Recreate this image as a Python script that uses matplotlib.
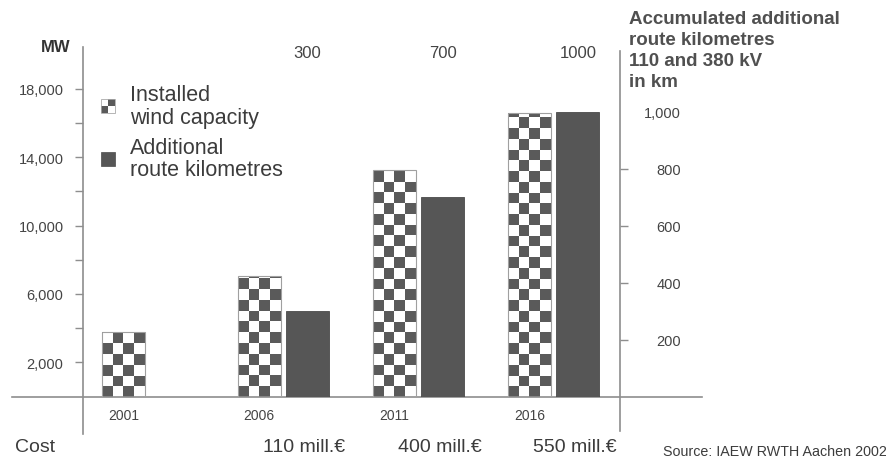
import numpy as np
import matplotlib
matplotlib.use("Agg")
import matplotlib.pyplot as plt
from matplotlib.patches import Rectangle, Patch
from matplotlib.colors import ListedColormap
from matplotlib.legend_handler import HandlerBase
import matplotlib.transforms as mtransforms

plt.rcParams['font.family'] = ['Liberation Sans', 'DejaVu Sans']

# ---------------- data ----------------
years = ['2001', '2006', '2011', '2016']
capacity_mw = [3800, 7050, 13250, 16600]          # installed wind capacity (left axis)
route_km = [np.nan, 300, 700, 1000]               # accumulated additional route km (right axis)
top_labels = ['', '300', '700', '1000']
cost_labels = ['', '110 mill.€', '400 mill.€', '550 mill.€']
left_major = [2000, 6000, 10000, 14000, 18000]
left_major_labels = ['2,000', '6,000', '10,000', '14,000', '18,000']
left_minor = [4000, 8000, 12000, 16000]
right_ticks = [200, 400, 600, 800, 1000]
right_tick_labels = ['200', '400', '600', '800', '1,000']

# ---------------- style ----------------
W, H = 887, 460
DARK = '#5a5a5a'
SOLID = '#565656'
AXC = '#8e8e8e'
TXT = '#3c3c3c'

fig = plt.figure(figsize=(W / 100, H / 100), dpi=100)
base_y = 397.6
top_y = 48
ax_left, ax_right = 83, 620
ax = fig.add_axes([ax_left / W, (H - base_y) / H, (ax_right - ax_left) / W, (base_y - top_y) / H])
ax2 = ax.twinx()

px_per_mw = 0.0171
px_per_km = 0.2846
ax_h_px = base_y - top_y
ax.set_ylim(0, ax_h_px / px_per_mw)
ax2.set_ylim(0, ax_h_px / px_per_km)

spacing_px = 135.3
first_center = 124.0
ax.set_xlim((ax_left - first_center) / spacing_px, (ax_right - first_center) / spacing_px)

x = np.arange(len(years))
bw = 43 / spacing_px
off = 48 / spacing_px

# checkered bars (left axis)
bars = ax.bar(x, capacity_mw, width=bw, facecolor='none', edgecolor='#a0a0a0', linewidth=0.8, zorder=3)
cmap = ListedColormap(['white', DARK])
cell_h = 10.75 / px_per_mw
for rect in bars:
    h = rect.get_height()
    nrows = int(np.ceil(h / cell_h))
    grid = (np.add.outer(np.arange(nrows), np.arange(4)) + 1) % 2
    x0 = rect.get_x()
    im = ax.imshow(grid, cmap=cmap, origin='lower', aspect='auto', interpolation='nearest',
                   extent=(x0, x0 + rect.get_width(), 0, nrows * cell_h), zorder=2)
    im.set_clip_path(rect)
ax.set_xlim((ax_left - first_center) / spacing_px, (ax_right - first_center) / spacing_px)
ax.set_ylim(0, ax_h_px / px_per_mw)

# solid bars (right axis)
ax2.bar(x + off, route_km, width=bw, color=SOLID, edgecolor='#4a4a4a', linewidth=0.6, zorder=3)
ax2.set_ylim(0, ax_h_px / px_per_km)

# spines
for s in ['top', 'right']:
    ax.spines[s].set_visible(False)
for s in ['top', 'left', 'bottom']:
    ax2.spines[s].set_visible(False)
ax.spines['left'].set_color(AXC)
ax.spines['bottom'].set_color(AXC)
ax2.spines['right'].set_color(AXC)
for sp in [ax.spines['left'], ax.spines['bottom'], ax2.spines['right']]:
    sp.set_linewidth(1.2)
ax.spines['left'].set_bounds((base_y - 435) / px_per_mw, ax_h_px / px_per_mw)
ax.spines['bottom'].set_bounds((12 - first_center) / spacing_px, (702 - first_center) / spacing_px)
ax2.spines['right'].set_bounds((base_y - 432) / px_per_km, (base_y - 52) / px_per_km)

# left ticks
ax.set_yticks(left_major, left_major_labels)
ax.set_yticks(left_minor, minor=True)
ax.tick_params(axis='y', which='both', length=6, width=1, color=AXC, direction='out',
               labelsize=10.5, labelcolor='#444444', pad=8)
# x ticks
ax.set_xticks(x, years)
ax.tick_params(axis='x', length=0, pad=8, labelsize=10, labelcolor='#444444')

# right ticks
ax2.set_yticks(right_ticks, right_tick_labels)
ax2.tick_params(axis='y', length=6, width=1, color=AXC, direction='out',
                labelsize=10.5, labelcolor='#444444', pad=38)
for lab in ax2.get_yticklabels():
    lab.set_horizontalalignment('right')
ax2.yaxis.get_major_ticks()[-1].tick2line.set_visible(False)

# top labels above solid bars and cost labels below
blend = mtransforms.blended_transform_factory(ax.transData, fig.transFigure)
for i, (t, c) in enumerate(zip(top_labels, cost_labels)):
    if t:
        ax.text(x[i] + off, 1 - 53 / H, t, transform=blend, ha='center', va='center',
                fontsize=12, color='#444444')
    if c:
        ax.text(x[i] + off - 3 / spacing_px, 1 - 448 / H, c, transform=blend, ha='center', va='center',
                fontsize=14, color=TXT)

fig.text(15 / W, 1 - 448 / H, 'Cost', ha='left', va='center', fontsize=14, color=TXT)
fig.text(663 / W, 1 - 452 / H, 'Source: IAEW RWTH Aachen 2002', ha='left', va='center',
         fontsize=10.3, color=TXT)
fig.text(56 / W, 1 - 47 / H, 'MW', ha='center', va='center', fontsize=12, fontweight='bold', color='#333333')
fig.text(629 / W, 1 - 11 / H, 'Accumulated additional\nroute kilometres\n110 and 380 kV\nin km',
         ha='left', va='top', fontsize=13.5, fontweight='bold', color='#505050', linespacing=1.3)


# legend with checkered key
class CheckerKey:
    pass


class CheckerHandler(HandlerBase):
    def create_artists(self, legend, orig_handle, xdescent, ydescent, width, height, fontsize, trans):
        s = min(width, height)
        cw = s / 2
        x0 = -xdescent + (width - s) / 2
        y0 = -ydescent + (height - s) / 2
        arts = []
        for r in range(2):
            for c in range(2):
                col = DARK if (r + c) % 2 == 0 else 'white'
                arts.append(Rectangle((x0 + c * cw, y0 + r * cw), cw, cw, facecolor=col,
                                      edgecolor='none', transform=trans))
        arts.append(Rectangle((x0, y0), s, s, facecolor='none', edgecolor='#aaaaaa', lw=0.6, transform=trans))
        return arts


fs = 15.5
fs_px = fs * 100 / 72
leg = ax.legend([CheckerKey(), Patch(facecolor=SOLID, edgecolor='#4a4a4a', linewidth=0.5)],
                ['Installed\nwind capacity', 'Additional\nroute kilometres'],
                handler_map={CheckerKey: CheckerHandler()},
                loc='upper left', bbox_to_anchor=(101 / W, 1 - 85 / H), bbox_transform=fig.transFigure,
                frameon=False, fontsize=fs, borderpad=0, borderaxespad=0,
                handlelength=14 / fs_px, handleheight=14 / fs_px, handletextpad=15 / fs_px,
                labelspacing=0.4, labelcolor=TXT)
for t in leg.get_texts():
    t.set_linespacing(1.12)

fig.savefig('out.png', dpi=100)
